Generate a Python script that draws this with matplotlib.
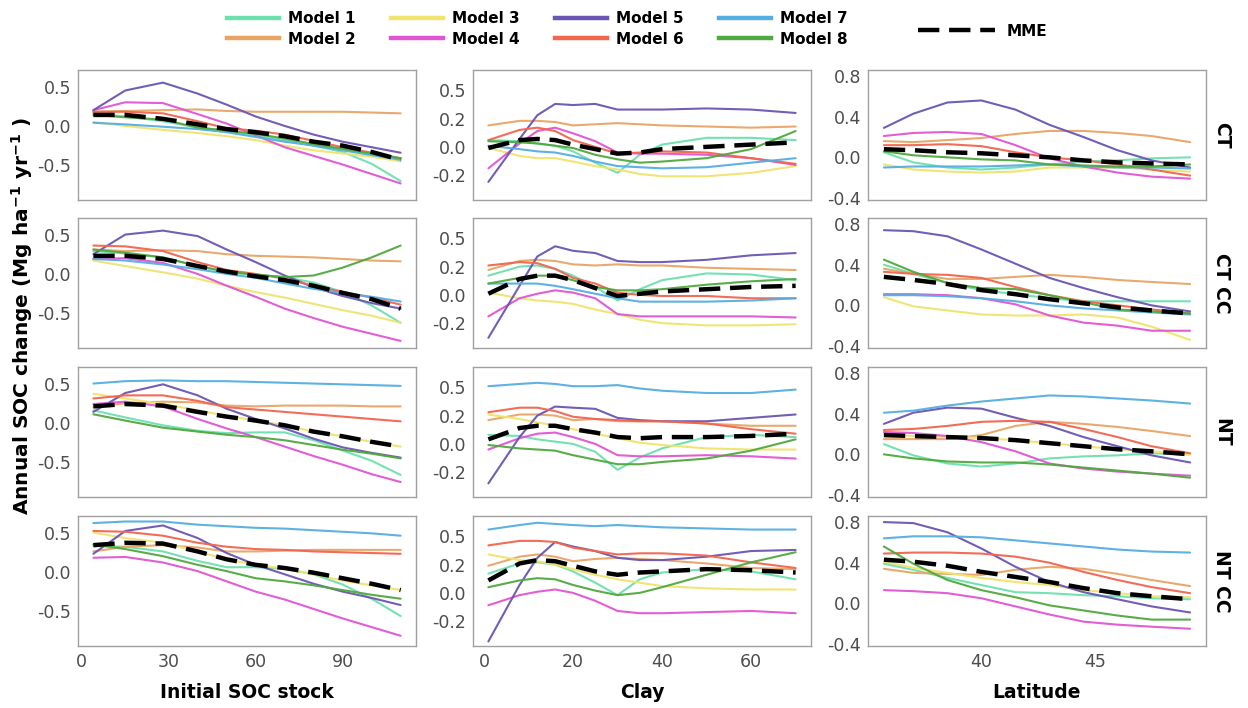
"""
Annual SOC change curves per model, tillage system and covariate (4x3 panels).
"""
import matplotlib
matplotlib.use("Agg")
import matplotlib.pyplot as plt
from matplotlib.lines import Line2D
from matplotlib.ticker import FormatStrFormatter

# --- data -------------------------------------------------------------------
models = ["Model 1", "Model 2", "Model 3", "Model 4",
          "Model 5", "Model 6", "Model 7", "Model 8"]
colores = ["#6DE0AE", "#E8A566", "#F0E36E", "#E055D2",
           "#6B55B2", "#F2654F", "#55AEE0", "#50A83E"]
sistemas = ["CT", "CT CC", "NT", "NT CC"]
covariables = ["Initial SOC stock", "Clay", "Latitude"]

x_soc = [4, 15, 28, 40, 50, 60, 70, 80, 90, 100, 110]
x_clay = [1, 8, 12, 16, 20, 25, 30, 35, 40, 50, 60, 70]
x_lat = [35.7, 37, 38.5, 40, 41.5, 43, 44.5, 46, 47.5, 49.2]

# Initial SOC stock
ct_soc = {
    "Model 1": [0.16, 0.12, 0.06, -0.02, -0.06, -0.12, -0.18, -0.25, -0.33, -0.48, -0.70],
    "Model 2": [0.18, 0.19, 0.20, 0.21, 0.19, 0.18, 0.18, 0.18, 0.18, 0.17, 0.16],
    "Model 3": [0.05, 0.00, -0.05, -0.09, -0.13, -0.18, -0.25, -0.31, -0.35, -0.39, -0.45],
    "Model 4": [0.20, 0.30, 0.29, 0.15, 0.03, -0.12, -0.27, -0.38, -0.49, -0.61, -0.73],
    "Model 5": [0.20, 0.45, 0.55, 0.41, 0.27, 0.12, 0.00, -0.11, -0.20, -0.27, -0.34],
    "Model 6": [0.18, 0.18, 0.16, 0.06, -0.03, -0.06, -0.11, -0.19, -0.27, -0.34, -0.41],
    "Model 7": [0.04, 0.02, -0.01, -0.04, -0.08, -0.14, -0.20, -0.25, -0.31, -0.37, -0.43],
    "Model 8": [0.14, 0.11, 0.08, -0.02, -0.06, -0.10, -0.16, -0.23, -0.29, -0.35, -0.41],
    "MME": [0.14, 0.14, 0.09, 0.02, -0.04, -0.08, -0.13, -0.20, -0.25, -0.33, -0.43],
}
ctcc_soc = {
    "Model 1": [0.29, 0.26, 0.21, 0.10, 0.02, -0.01, -0.04, -0.11, -0.23, -0.40, -0.62],
    "Model 2": [0.31, 0.29, 0.30, 0.29, 0.25, 0.23, 0.22, 0.21, 0.19, 0.17, 0.16],
    "Model 3": [0.17, 0.10, 0.02, -0.06, -0.15, -0.23, -0.30, -0.38, -0.46, -0.53, -0.62],
    "Model 4": [0.19, 0.20, 0.14, 0.00, -0.15, -0.29, -0.44, -0.56, -0.67, -0.76, -0.85],
    "Model 5": [0.25, 0.50, 0.55, 0.48, 0.31, 0.15, -0.02, -0.17, -0.28, -0.37, -0.44],
    "Model 6": [0.36, 0.35, 0.29, 0.15, 0.05, 0.00, -0.06, -0.15, -0.23, -0.30, -0.39],
    "Model 7": [0.19, 0.17, 0.12, 0.06, 0.00, -0.05, -0.12, -0.19, -0.24, -0.29, -0.35],
    "Model 8": [0.31, 0.27, 0.21, 0.10, 0.03, -0.01, -0.04, -0.02, 0.08, 0.21, 0.36],
    "MME": [0.23, 0.23, 0.19, 0.10, 0.03, -0.03, -0.08, -0.15, -0.24, -0.32, -0.44],
}
nt_soc = {
    "Model 1": [0.16, 0.07, -0.03, -0.10, -0.13, -0.12, -0.12, -0.22, -0.35, -0.48, -0.66],
    "Model 2": [0.20, 0.25, 0.27, 0.26, 0.22, 0.21, 0.22, 0.22, 0.22, 0.21, 0.21],
    "Model 3": [0.37, 0.31, 0.24, 0.16, 0.09, 0.03, -0.03, -0.11, -0.17, -0.24, -0.30],
    "Model 4": [0.24, 0.27, 0.21, 0.05, -0.07, -0.18, -0.30, -0.42, -0.53, -0.65, -0.75],
    "Model 5": [0.14, 0.38, 0.49, 0.35, 0.18, 0.05, -0.07, -0.20, -0.31, -0.38, -0.44],
    "Model 6": [0.31, 0.35, 0.35, 0.28, 0.20, 0.17, 0.14, 0.11, 0.08, 0.05, 0.02],
    "Model 7": [0.50, 0.53, 0.54, 0.53, 0.53, 0.52, 0.51, 0.50, 0.49, 0.48, 0.47],
    "Model 8": [0.11, 0.03, -0.06, -0.11, -0.15, -0.18, -0.22, -0.28, -0.34, -0.39, -0.45],
    "MME": [0.21, 0.24, 0.22, 0.14, 0.08, 0.03, -0.03, -0.11, -0.17, -0.24, -0.30],
}
ntcc_soc = {
    "Model 1": [0.33, 0.32, 0.26, 0.14, 0.06, 0.06, 0.04, -0.03, -0.16, -0.34, -0.56],
    "Model 2": [0.26, 0.32, 0.34, 0.31, 0.26, 0.26, 0.27, 0.28, 0.28, 0.28, 0.28],
    "Model 3": [0.50, 0.43, 0.37, 0.26, 0.16, 0.09, 0.04, -0.03, -0.11, -0.17, -0.23],
    "Model 4": [0.18, 0.19, 0.12, 0.01, -0.12, -0.25, -0.35, -0.47, -0.59, -0.70, -0.81],
    "Model 5": [0.23, 0.52, 0.59, 0.43, 0.24, 0.09, -0.03, -0.15, -0.25, -0.33, -0.42],
    "Model 6": [0.52, 0.51, 0.46, 0.37, 0.32, 0.29, 0.28, 0.26, 0.25, 0.24, 0.23],
    "Model 7": [0.62, 0.64, 0.64, 0.60, 0.58, 0.56, 0.55, 0.53, 0.51, 0.49, 0.46],
    "Model 8": [0.35, 0.29, 0.20, 0.09, 0.01, -0.08, -0.12, -0.17, -0.23, -0.29, -0.34],
    "MME": [0.34, 0.37, 0.36, 0.26, 0.16, 0.09, 0.05, -0.01, -0.08, -0.15, -0.23],
}

# Clay
ct_clay = {
    "Model 1": [0.06, 0.05, 0.03, 0.01, -0.04, -0.14, -0.23, -0.07, 0.02, 0.08, 0.08, 0.06],
    "Model 2": [0.19, 0.23, 0.23, 0.22, 0.19, 0.20, 0.21, 0.20, 0.19, 0.18, 0.17, 0.18],
    "Model 3": [-0.01, -0.08, -0.10, -0.10, -0.13, -0.17, -0.20, -0.24, -0.26, -0.26, -0.23, -0.17],
    "Model 4": [-0.19, 0.03, 0.14, 0.17, 0.12, 0.05, -0.05, -0.06, -0.06, -0.07, -0.10, -0.16],
    "Model 5": [-0.31, 0.07, 0.28, 0.38, 0.37, 0.38, 0.33, 0.33, 0.33, 0.34, 0.33, 0.30],
    "Model 6": [0.06, 0.15, 0.17, 0.14, 0.06, 0.00, -0.06, -0.05, -0.04, -0.05, -0.10, -0.15],
    "Model 7": [0.01, -0.02, -0.04, -0.05, -0.08, -0.13, -0.17, -0.18, -0.19, -0.18, -0.14, -0.10],
    "Model 8": [0.05, 0.04, 0.03, 0.01, -0.01, -0.07, -0.11, -0.14, -0.13, -0.10, -0.02, 0.14],
    "MME": [-0.01, 0.06, 0.07, 0.06, 0.02, -0.02, -0.06, -0.05, -0.02, 0.00, 0.02, 0.04],
}
ctcc_clay = {
    "Model 1": [0.17, 0.25, 0.26, 0.23, 0.17, 0.07, -0.05, 0.05, 0.13, 0.19, 0.18, 0.13],
    "Model 2": [0.22, 0.30, 0.31, 0.30, 0.27, 0.26, 0.27, 0.26, 0.26, 0.24, 0.23, 0.22],
    "Model 3": [0.02, -0.03, -0.05, -0.06, -0.08, -0.13, -0.17, -0.22, -0.25, -0.27, -0.27, -0.26],
    "Model 4": [-0.19, -0.03, 0.01, 0.04, 0.02, -0.03, -0.17, -0.19, -0.19, -0.19, -0.19, -0.20],
    "Model 5": [-0.38, 0.08, 0.34, 0.43, 0.39, 0.37, 0.30, 0.29, 0.29, 0.31, 0.35, 0.37],
    "Model 6": [0.26, 0.29, 0.28, 0.23, 0.15, 0.10, 0.02, 0.00, -0.01, -0.01, -0.03, -0.03],
    "Model 7": [0.10, 0.10, 0.10, 0.08, 0.05, 0.01, -0.03, -0.06, -0.06, -0.06, -0.05, -0.03],
    "Model 8": [0.10, 0.15, 0.17, 0.17, 0.13, 0.07, 0.04, 0.04, 0.05, 0.09, 0.12, 0.14],
    "MME": [0.01, 0.14, 0.17, 0.17, 0.13, 0.06, -0.01, 0.01, 0.03, 0.05, 0.07, 0.08],
}
nt_clay = {
    "Model 1": [0.08, 0.07, 0.04, 0.02, 0.00, -0.07, -0.23, -0.12, -0.04, 0.06, 0.08, 0.06],
    "Model 2": [0.21, 0.26, 0.26, 0.25, 0.21, 0.22, 0.20, 0.20, 0.20, 0.18, 0.16, 0.16],
    "Model 3": [0.26, 0.22, 0.19, 0.16, 0.13, 0.09, 0.05, 0.01, -0.01, -0.04, -0.05, -0.05],
    "Model 4": [-0.05, 0.05, 0.09, 0.10, 0.06, 0.00, -0.10, -0.11, -0.11, -0.10, -0.11, -0.13],
    "Model 5": [-0.35, 0.06, 0.25, 0.33, 0.32, 0.31, 0.23, 0.21, 0.20, 0.20, 0.23, 0.26],
    "Model 6": [0.28, 0.32, 0.32, 0.29, 0.24, 0.22, 0.21, 0.20, 0.20, 0.18, 0.13, 0.09],
    "Model 7": [0.51, 0.53, 0.54, 0.53, 0.51, 0.51, 0.52, 0.49, 0.47, 0.45, 0.45, 0.48],
    "Model 8": [-0.01, -0.04, -0.05, -0.06, -0.10, -0.14, -0.18, -0.18, -0.16, -0.13, -0.06, 0.04],
    "MME": [0.04, 0.14, 0.16, 0.16, 0.13, 0.10, 0.06, 0.05, 0.06, 0.06, 0.07, 0.09],
}
ntcc_clay = {
    "Model 1": [0.17, 0.26, 0.27, 0.25, 0.19, 0.09, -0.02, 0.12, 0.18, 0.21, 0.19, 0.12],
    "Model 2": [0.24, 0.32, 0.34, 0.32, 0.28, 0.30, 0.31, 0.30, 0.29, 0.26, 0.22, 0.21],
    "Model 3": [0.34, 0.29, 0.28, 0.25, 0.21, 0.16, 0.12, 0.09, 0.06, 0.04, 0.03, 0.03],
    "Model 4": [-0.11, -0.02, 0.01, 0.03, 0.00, -0.07, -0.16, -0.18, -0.18, -0.17, -0.16, -0.18],
    "Model 5": [-0.43, 0.07, 0.31, 0.45, 0.41, 0.37, 0.31, 0.29, 0.29, 0.32, 0.37, 0.38],
    "Model 6": [0.42, 0.46, 0.46, 0.45, 0.40, 0.37, 0.34, 0.35, 0.35, 0.33, 0.27, 0.22],
    "Model 7": [0.56, 0.60, 0.62, 0.61, 0.60, 0.59, 0.60, 0.59, 0.58, 0.57, 0.56, 0.56],
    "Model 8": [0.05, 0.11, 0.13, 0.12, 0.07, 0.02, -0.02, 0.00, 0.05, 0.16, 0.27, 0.36],
    "MME": [0.11, 0.26, 0.29, 0.28, 0.24, 0.19, 0.16, 0.18, 0.19, 0.21, 0.20, 0.18],
}

# Latitude
ct_lat = {
    "Model 1": [0.05, -0.05, -0.10, -0.12, -0.10, -0.07, -0.04, -0.03, -0.01, 0.00],
    "Model 2": [0.16, 0.15, 0.17, 0.19, 0.23, 0.26, 0.26, 0.24, 0.21, 0.15],
    "Model 3": [-0.07, -0.12, -0.14, -0.15, -0.14, -0.10, -0.10, -0.10, -0.12, -0.14],
    "Model 4": [0.21, 0.24, 0.25, 0.23, 0.12, -0.01, -0.09, -0.15, -0.19, -0.21],
    "Model 5": [0.29, 0.43, 0.54, 0.56, 0.47, 0.32, 0.20, 0.07, -0.03, -0.10],
    "Model 6": [0.12, 0.12, 0.13, 0.11, 0.05, 0.00, -0.03, -0.07, -0.12, -0.18],
    "Model 7": [-0.10, -0.09, -0.09, -0.09, -0.08, -0.07, -0.09, -0.10, -0.10, -0.11],
    "Model 8": [0.06, 0.02, 0.00, -0.02, -0.03, -0.07, -0.08, -0.09, -0.09, -0.07],
    "MME": [0.08, 0.07, 0.05, 0.04, 0.02, 0.00, -0.03, -0.05, -0.06, -0.07],
}
ctcc_lat = {
    "Model 1": [0.40, 0.31, 0.22, 0.15, 0.11, 0.07, 0.04, 0.04, 0.04, 0.04],
    "Model 2": [0.36, 0.31, 0.26, 0.26, 0.28, 0.30, 0.28, 0.25, 0.23, 0.21],
    "Model 3": [0.08, -0.01, -0.05, -0.09, -0.10, -0.10, -0.09, -0.12, -0.21, -0.34],
    "Model 4": [0.11, 0.11, 0.10, 0.07, 0.01, -0.10, -0.17, -0.20, -0.25, -0.25],
    "Model 5": [0.74, 0.73, 0.68, 0.55, 0.41, 0.27, 0.17, 0.08, 0.00, -0.06],
    "Model 6": [0.33, 0.31, 0.30, 0.27, 0.18, 0.10, 0.04, 0.00, -0.04, -0.08],
    "Model 7": [0.10, 0.10, 0.09, 0.07, 0.04, 0.00, -0.03, -0.05, -0.07, -0.09],
    "Model 8": [0.45, 0.33, 0.22, 0.17, 0.16, 0.10, 0.03, -0.04, -0.06, -0.08],
    "MME": [0.28, 0.25, 0.21, 0.15, 0.11, 0.06, 0.02, -0.02, -0.05, -0.08],
}
nt_lat = {
    "Model 1": [0.10, -0.01, -0.09, -0.12, -0.09, -0.04, -0.02, -0.01, 0.01, 0.00],
    "Model 2": [0.15, 0.15, 0.15, 0.19, 0.28, 0.32, 0.30, 0.27, 0.23, 0.18],
    "Model 3": [0.20, 0.18, 0.17, 0.16, 0.14, 0.11, 0.08, 0.05, 0.03, 0.00],
    "Model 4": [0.22, 0.21, 0.18, 0.12, 0.03, -0.09, -0.14, -0.17, -0.19, -0.21],
    "Model 5": [0.30, 0.41, 0.46, 0.45, 0.36, 0.28, 0.17, 0.08, -0.01, -0.08],
    "Model 6": [0.24, 0.25, 0.28, 0.32, 0.33, 0.32, 0.25, 0.17, 0.08, 0.01],
    "Model 7": [0.41, 0.43, 0.48, 0.52, 0.55, 0.58, 0.57, 0.55, 0.53, 0.50],
    "Model 8": [0.00, -0.04, -0.07, -0.08, -0.08, -0.10, -0.13, -0.16, -0.19, -0.23],
    "MME": [0.19, 0.18, 0.17, 0.16, 0.14, 0.11, 0.08, 0.05, 0.03, 0.00],
}
ntcc_lat = {
    "Model 1": [0.39, 0.33, 0.25, 0.18, 0.11, 0.10, 0.08, 0.07, 0.05, 0.04],
    "Model 2": [0.34, 0.30, 0.29, 0.28, 0.33, 0.36, 0.34, 0.29, 0.23, 0.17],
    "Model 3": [0.41, 0.35, 0.30, 0.25, 0.21, 0.18, 0.13, 0.10, 0.07, 0.06],
    "Model 4": [0.13, 0.12, 0.10, 0.05, -0.03, -0.11, -0.18, -0.21, -0.23, -0.25],
    "Model 5": [0.80, 0.79, 0.70, 0.54, 0.36, 0.21, 0.11, 0.04, -0.03, -0.09],
    "Model 6": [0.49, 0.50, 0.50, 0.49, 0.46, 0.40, 0.31, 0.23, 0.16, 0.10],
    "Model 7": [0.64, 0.66, 0.66, 0.65, 0.62, 0.59, 0.56, 0.53, 0.51, 0.50],
    "Model 8": [0.56, 0.39, 0.23, 0.13, 0.06, -0.02, -0.07, -0.12, -0.16, -0.16],
    "MME": [0.43, 0.41, 0.37, 0.31, 0.26, 0.21, 0.15, 0.10, 0.07, 0.04],
}

paneles = [
    [ct_soc, ct_clay, ct_lat],
    [ctcc_soc, ctcc_clay, ctcc_lat],
    [nt_soc, nt_clay, nt_lat],
    [ntcc_soc, ntcc_clay, ntcc_lat],
]
x_cols = [x_soc, x_clay, x_lat]
xlims = [(-1.3, 115.3), (-2.45, 73.45), (35.0, 49.9)]
ylims = [(-0.94, 0.71), (-0.47, 0.68), (-0.42, 0.86)]
xticks = [[0, 30, 60, 90], [0, 20, 40, 60], [40, 45]]
yticks = [[-0.5, 0.0, 0.5], [-0.25, 0.0, 0.25, 0.5], [-0.4, 0.0, 0.4, 0.8]]

# --- figure -----------------------------------------------------------------
W, H = 1248, 708
fig = plt.figure(figsize=(W / 100, H / 100), dpi=100)

col_left = [78, 473, 868]
row_top = [70, 218, 367, 516]
ancho, alto = 338, 130
mme_dash = (4.8, 2.2)

for i, sistema in enumerate(sistemas):
    for j in range(3):
        ax = fig.add_axes([col_left[j] / W, 1 - (row_top[i] + alto) / H, ancho / W, alto / H])
        datos = paneles[i][j]
        for m, c in zip(models, colores):
            ax.plot(x_cols[j], datos[m], color=c, lw=1.5, alpha=0.95, solid_capstyle="round")
        ax.plot(x_cols[j], datos["MME"], color="black", lw=3.2, dashes=mme_dash, zorder=5)

        ax.set_xlim(*xlims[j])
        ax.set_ylim(*ylims[j])
        ax.set_yticks(yticks[j])
        ax.yaxis.set_major_formatter(FormatStrFormatter("%.1f"))
        ax.set_xticks(xticks[j])
        ax.tick_params(length=0, pad=5, labelsize=12.5, labelcolor="#4D4D4D")
        if i < 3:
            ax.set_xticklabels([])
        for s in ax.spines.values():
            s.set_color("#A0A0A0")
            s.set_linewidth(1.0)

    fig.text(1222 / W, 1 - (row_top[i] + alto / 2) / H, sistema, rotation=-90,
             ha="center", va="center", fontsize=13.5, fontweight="bold")

for j, nombre in enumerate(covariables):
    fig.text((col_left[j] + ancho / 2) / W, 1 - 693 / H, nombre,
             ha="center", va="center", fontsize=13.5, fontweight="bold")

fig.text(22 / W, 1 - 316 / H, r"Annual SOC change (Mg ha$^{\mathbf{-1}}$ yr$^{\mathbf{-1}}$ )",
         rotation=90, ha="center", va="center", fontsize=14.5, fontweight="bold")

# legend
handles = [Line2D([], [], color=c, lw=3.2) for c in colores]
fig.legend(handles, models, ncol=4, loc="center", bbox_to_anchor=(537 / W, 1 - 29 / H),
           frameon=False, handlelength=3.4, handletextpad=0.6, columnspacing=2.3,
           labelspacing=0.35, prop={"weight": "bold", "size": 11})
mme_h = Line2D([], [], color="black", lw=3.2, dashes=mme_dash)
fig.legend([mme_h], ["MME"], loc="center", bbox_to_anchor=(983 / W, 1 - 31 / H),
           frameon=False, handlelength=5.0, handletextpad=0.8,
           prop={"weight": "bold", "size": 11})

fig.savefig("out.png", dpi=100)
